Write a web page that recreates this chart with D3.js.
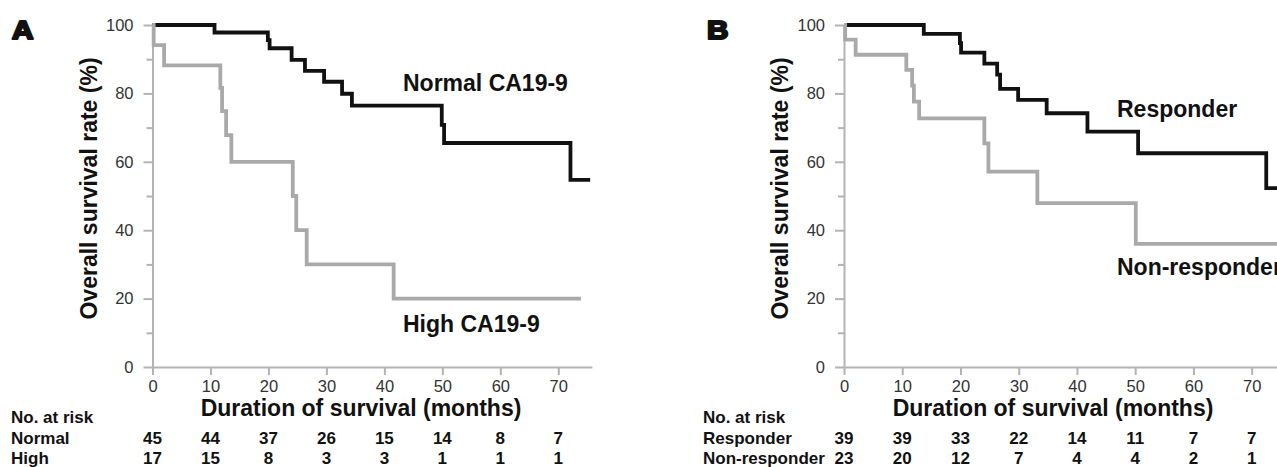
<!DOCTYPE html>
<html><head><meta charset="utf-8">
<script src="https://cdn.jsdelivr.net/npm/d3@7"></script>
<style>
body{margin:0;background:#fff;}
svg{display:block;font-family:"Liberation Sans",Arial,sans-serif;}
</style></head>
<body><svg id="c" width="1277" height="467"></svg>
<script>
// ---- data ----
const xTicks = [0,10,20,30,40,50,60,70];
const yTicks = [0,20,40,60,80,100];
const yMinorTicks = [10,30,50,70,90];

// Panel A
const normalTimes  = [0, 10.7, 19.9, 20.2, 24.0, 26.3, 29.6, 32.7, 34.4, 49.9, 50.3, 72.1];
const normalValues = [100, 97.8, 95.6, 93.2, 89.8, 86.6, 83.4, 79.9, 76.4, 70.8, 65.5, 54.7];
const normalEnd = 75.5;
const highTimes  = [0, 0.2, 2.0, 11.7, 12.0, 12.7, 13.6, 24.2, 24.8, 26.6, 41.6];
const highValues = [100, 94.1, 88.2, 81.6, 74.8, 67.8, 60.0, 50.0, 40.0, 30.0, 20.0];
const highEnd = 73.9;
const riskNormal = [45,44,37,26,15,14,8,7];
const riskHigh   = [17,15,8,3,3,1,1,1];

// Panel B
const respTimes  = [0, 13.7, 19.9, 20.1, 24.1, 26.3, 26.8, 29.9, 34.8, 41.8, 50.5, 72.5];
const respValues = [100, 97.4, 94.7, 91.9, 88.7, 85.5, 81.3, 78.1, 74.2, 68.8, 62.5, 52.3];
const respEnd = 75.5;
const nonTimes  = [0, 0.2, 2.0, 10.7, 11.7, 12.0, 12.9, 24.1, 24.8, 33.2, 50.1];
const nonValues = [100, 95.7, 91.3, 86.9, 82.3, 77.6, 72.7, 65.4, 57.1, 47.9, 36.0];
const nonEnd = 75.5;
const riskResp = [39,39,33,22,14,11,7,7];
const riskNon  = [23,20,12,7,4,4,2,1];

// ---- drawing ----
const svg = d3.select("#c");
const AX = "#b3b3b3", TXT = "#333";

function stepData(times, values, end){
  const pts = times.map((t,i)=>({t, v: values[i]}));
  pts.push({t: end, v: values[values.length-1]});
  return pts;
}

function panel(cfg){
  const x = d3.scaleLinear().domain([0, cfg.xMax]).range([cfg.x0, cfg.x1]);
  const y = d3.scaleLinear().domain([0,100]).range([367, 25]);
  const g = svg.append("g");

  // y axis
  g.append("g").attr("transform",`translate(${cfg.x0},0)`)
    .call(d3.axisLeft(y).tickValues(yTicks).tickSize(9).tickPadding(10).tickSizeOuter(0));
  g.append("g").attr("transform",`translate(${cfg.x0},0)`)
    .call(d3.axisLeft(y).tickValues(yMinorTicks).tickSize(6).tickFormat("").tickSizeOuter(0))
    .select(".domain").remove();
  // x axis
  g.append("g").attr("transform",`translate(0,${y(0)})`)
    .call(d3.axisBottom(x).tickValues(xTicks).tickSize(8).tickPadding(5).tickSizeOuter(0));
  g.selectAll(".domain, .tick line").attr("stroke",AX).attr("stroke-width",2);
  g.selectAll(".tick text").attr("fill",TXT).style("font-size","16.5px")
    .style("font-family","'Liberation Sans',Arial,sans-serif");

  const line = d3.line().x(d=>x(d.t)).y(d=>y(d.v)).curve(d3.curveStepAfter);
  cfg.series.forEach(s=>{
    g.append("path").datum(stepData(s.times,s.values,s.end))
      .attr("d",line).attr("fill","none").attr("stroke",s.color)
      .attr("stroke-width",3.8).attr("stroke-linejoin","miter");
  });
  cfg.series.forEach(s=>{
    g.append("text").attr("x",s.lx).attr("y",s.ly).text(s.label)
      .attr("font-size",23).attr("font-weight","bold").attr("fill","#111");
  });

  // titles
  g.append("text").attr("transform",`translate(${cfg.ytx},${(58+319)/2}) rotate(-90)`)
    .attr("text-anchor","middle").attr("font-size",23).attr("font-weight","bold")
    .attr("fill","#111").text("Overall survival rate (%)");
  g.append("text").attr("x",cfg.xtx).attr("y",415.5).attr("text-anchor","middle")
    .attr("font-size",23).attr("font-weight","bold").attr("fill","#111")
    .text("Duration of survival (months)");
  g.append("text").attr("transform",`translate(${cfg.letterX},39) scale(1.12,1)`).text(cfg.letter)
    .attr("font-size",26.5).attr("font-weight","bold").attr("fill","#111")
    .attr("stroke","#111").attr("stroke-width",2.2).attr("stroke-linejoin","round");

  // risk table
  g.append("text").attr("x",cfg.tableX).attr("y",423).text("No. at risk")
    .attr("font-size",17).attr("font-weight","bold").attr("fill","#111");
  cfg.risk.forEach((r,ri)=>{
    const by = 443.5 + ri*20;
    g.append("text").attr("x",cfg.tableX).attr("y",by).text(r.name)
      .attr("font-size",17).attr("font-weight","bold").attr("fill","#111");
    g.selectAll(null).data(r.vals).enter().append("text")
      .attr("x",(d,i)=>x(xTicks[i])).attr("y",by).attr("text-anchor","middle")
      .attr("font-size",17).attr("font-weight","bold").attr("fill","#111").text(d=>d);
  });
}

panel({
  x0:152.5, x1:152.5+75.8*5.797, xMax:75.8, ytx:97, xtx:361, letter:"A", letterX:12, tableX:11,
  series:[
    {times:normalTimes, values:normalValues, end:normalEnd, color:"#111", label:"Normal CA19-9", lx:403, ly:90.5},
    {times:highTimes, values:highValues, end:highEnd, color:"#a9a9a9", label:"High CA19-9", lx:403, ly:331.5}
  ],
  risk:[{name:"Normal", vals:riskNormal},{name:"High", vals:riskHigh}]
});
panel({
  x0:844, x1:844+76*5.824, xMax:76, ytx:788, xtx:1053, letter:"B", letterX:707, tableX:703,
  series:[
    {times:respTimes, values:respValues, end:respEnd, color:"#111", label:"Responder", lx:1117, ly:117},
    {times:nonTimes, values:nonValues, end:nonEnd, color:"#a9a9a9", label:"Non-responder", lx:1117, ly:275}
  ],
  risk:[{name:"Responder", vals:riskResp},{name:"Non-responder", vals:riskNon}]
});
</script></body></html>
